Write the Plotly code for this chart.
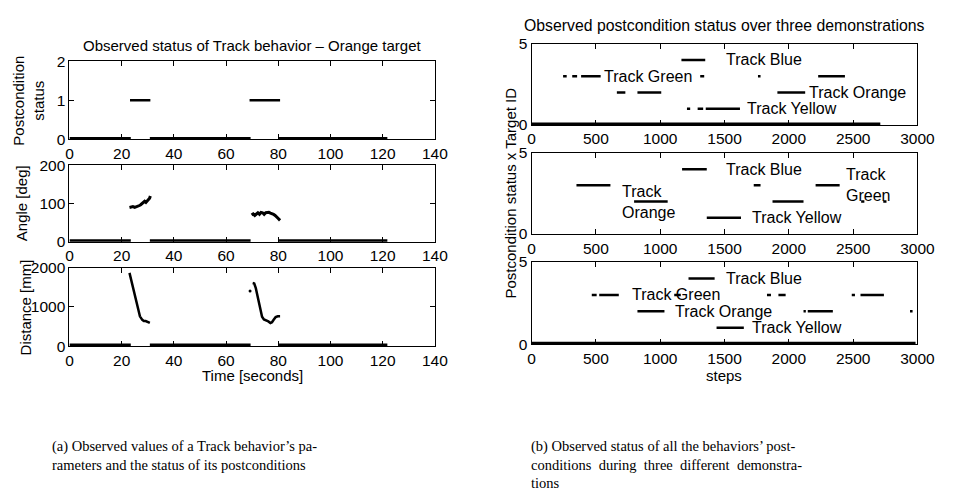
import plotly.graph_objects as go

W, H = 956, 497

# ---------------- data: left (a) ----------------
status_segments = [(0, 23.5, 0), (23.2, 31.0, 1), (30.8, 69.4, 0), (69.0, 80.7, 1), (80.3, 121.8, 0)]
zero_segments = [(0, 23.5), (30.8, 69.4), (80.3, 121.8)]

angle_t1 = [23.0, 23.6, 24.3, 25.0, 25.6, 26.2, 26.8, 27.3, 27.8, 28.3, 28.8, 29.3, 29.8, 30.3, 30.7, 31.0]
angle_v1 = [90, 91, 92, 90, 91, 93, 95, 97, 100, 103, 106, 103, 107, 108, 114, 120]
angle_t2 = [69.8, 70.4, 71.0, 71.6, 72.2, 72.8, 73.4, 74.0, 74.6, 75.2, 75.8, 76.4, 77.0, 77.6, 78.2, 78.8, 79.4, 80.0, 80.7]
angle_v2 = [70, 73, 69, 74, 76, 72, 77, 76, 72, 76, 77, 77, 75, 74, 72, 69, 66, 61, 56]

dist_t1 = [23.0, 24.0, 25.0, 26.0, 27.0, 27.9, 28.5, 29.2, 30.0, 30.8]
dist_v1 = [1870, 1590, 1290, 1000, 760, 670, 640, 640, 620, 595]
dist_t2 = [70.2, 70.8, 71.4, 72.2, 73.0, 73.8, 74.5, 75.3, 76.2, 77.0, 77.6, 78.3, 79.0, 79.8, 80.7]
dist_v2 = [1610, 1600, 1480, 1230, 980, 750, 680, 660, 630, 590, 610, 680, 740, 760, 760]
dist_t_extra = [69.2]
dist_v_extra = [1410]

# ---------------- data: right (b) ----------------
# per demonstration, per level (4=Blue, 3=Green, 2=Orange, 1=Yellow): active step ranges
demo1 = {
    4: [(1165, 1350)],
    3: [(245, 273), (316, 354), (385, 537), (1311, 1342), (1760, 1780), (2228, 2436)],
    2: [(663, 729), (823, 1008), (1911, 2127)],
    1: [(1208, 1233), (1291, 1334), (1354, 1620)],
}
demo2 = {
    4: [(1170, 1362)],
    3: [(349, 613), (1727, 1780), (2208, 2395)],
    2: [(797, 1058), (1873, 2114), (2562, 2587), (2734, 2759)],
    1: [(1362, 1628)],
}
demo3 = {
    4: [(1220, 1423)],
    3: [(468, 506), (526, 678), (1109, 1160), (1830, 1861), (1919, 1975), (2489, 2514), (2557, 2739)],
    2: [(823, 1033), (2114, 2132), (2147, 2342), (2942, 2962)],
    1: [(1438, 1650)],
}
demo_zero_end = [2711, None, 2985]

labels1 = [("Track Blue", 1494, 4), ("Track Green", 544, 3), ("Track Orange", 2139, 2), ("Track Yellow", 1658, 1)]
labels2 = [("Track Blue", 1499, 4), ("Track<br>Orange", 684, 1.95), ("Track<br>Green", 2431, 3.0), ("Track Yellow", 1701, 1)]
labels3 = [("Track Blue", 1499, 4), ("Track Green", 765, 3), ("Track Orange", 1101, 2), ("Track Yellow", 1701, 1)]

left_xticks = [0, 20, 40, 60, 80, 100, 120, 140]
right_xticks = [0, 500, 1000, 1500, 2000, 2500, 3000]

# ---------------- layout helpers ----------------
def dx(p0, p1):
    return [p0 / W, p1 / W]

def dy(top, bottom):
    return [1 - bottom / H, 1 - top / H]

FONT = "Liberation Sans, Arial, sans-serif"
SERIF = "Liberation Serif, Times New Roman, serif"
TF = dict(family=FONT, size=15, color="black")
TICKF = dict(family=FONT, size=15.5, color="black")
LABF = dict(family=FONT, size=16, color="black")

fig = go.Figure()

def seg_xy(segs, level):
    xs, ys = [], []
    for a, b in segs:
        xs += [a, b, None]
        ys += [level, level, None]
    return xs, ys

BLACK = "black"

# left panel 1: status
xs, ys = [], []
for a, b, v in status_segments:
    if v == 1:
        xs += [a, b, None]; ys += [v, v, None]
fig.add_trace(go.Scatter(x=xs, y=ys, mode="lines", line=dict(color=BLACK, width=2.5), xaxis="x", yaxis="y"))
for ax_x, ax_y in [("x", "y"), ("x2", "y2"), ("x3", "y3")]:
    zx, zy = seg_xy(zero_segments, 0)
    fig.add_trace(go.Scatter(x=zx, y=zy, mode="lines", line=dict(color=BLACK, width=5), xaxis=ax_x, yaxis=ax_y))

# left panel 2: angle
fig.add_trace(go.Scatter(x=angle_t1, y=angle_v1, mode="lines", line=dict(color=BLACK, width=3), xaxis="x2", yaxis="y2"))
fig.add_trace(go.Scatter(x=angle_t2, y=angle_v2, mode="lines", line=dict(color=BLACK, width=3), xaxis="x2", yaxis="y2"))

# left panel 3: distance
fig.add_trace(go.Scatter(x=dist_t1, y=dist_v1, mode="lines", line=dict(color=BLACK, width=2.5), xaxis="x3", yaxis="y3"))
fig.add_trace(go.Scatter(x=dist_t2, y=dist_v2, mode="lines", line=dict(color=BLACK, width=2.5), xaxis="x3", yaxis="y3"))
fig.add_trace(go.Scatter(x=dist_t_extra, y=dist_v_extra, mode="markers", marker=dict(color=BLACK, size=3), xaxis="x3", yaxis="y3"))

# right panels
for i, demo in enumerate([demo1, demo2, demo3]):
    axx, axy = "x%d" % (i + 4), "y%d" % (i + 4)
    xs, ys = [], []
    for lvl, segs in demo.items():
        sx, sy = seg_xy(segs, lvl)
        xs += sx; ys += sy
    fig.add_trace(go.Scatter(x=xs, y=ys, mode="lines", line=dict(color=BLACK, width=2.5), xaxis=axx, yaxis=axy))
    if demo_zero_end[i] is not None:
        zx, zy = seg_xy([(0, demo_zero_end[i])], 0)
        fig.add_trace(go.Scatter(x=zx, y=zy, mode="lines", line=dict(color=BLACK, width=5), xaxis=axx, yaxis=axy))

def axis_common():
    return dict(showline=True, linecolor="black", linewidth=1, mirror="ticks", ticks="inside",
                ticklen=5, tickcolor="black", showgrid=False, zeroline=False, tickfont=TICKF)

LX = dx(67, 441)
RX = dx(540, 935)
left_rows = [(54, 135), (162, 241), (268, 349)]
right_rows = [(36, 120), (149, 233), (262, 347)]
left_y = [([0, 2], [0, 1, 2]), ([0, 200], [0, 100, 200]), ([0, 2000], [0, 1000, 2000])]

layout = dict(width=W, height=H, margin=dict(l=0, r=0, t=0, b=0), showlegend=False,
              plot_bgcolor="white", paper_bgcolor="white", font=TF)
for i in range(3):
    n = i + 1
    xk = "xaxis" if n == 1 else "xaxis%d" % n
    yk = "yaxis" if n == 1 else "yaxis%d" % n
    layout[xk] = dict(domain=LX, range=[0, 140], tickvals=left_xticks, anchor="y" if n == 1 else "y%d" % n, **axis_common())
    layout[yk] = dict(domain=dy(*left_rows[i]), range=left_y[i][0], tickvals=left_y[i][1],
                      anchor="x" if n == 1 else "x%d" % n, **axis_common())
for i in range(3):
    n = i + 4
    layout["xaxis%d" % n] = dict(domain=RX, range=[0, 3000], tickvals=right_xticks, anchor="y%d" % n, **axis_common())
    layout["yaxis%d" % n] = dict(domain=dy(*right_rows[i]), range=[0, 5], tickvals=[0, 5], anchor="x%d" % n, **axis_common())

fig.update_layout(**layout)

ann = []
# in-plot labels
for i, labs in enumerate([labels1, labels2, labels3]):
    n = i + 4
    for txt, xv, yv in labs:
        ann.append(dict(x=xv, y=yv, xref="x%d" % n, yref="y%d" % n, text=txt, showarrow=False,
                        xanchor="left", yanchor="middle", font=LABF, align="left"))

def pann(px, py, text, **kw):
    d = dict(x=px / W, y=1 - py / H, xref="paper", yref="paper", text=text, showarrow=False, font=TF)
    d.update(kw)
    ann.append(d)

# titles
pann(254, 38, "Observed status of Track behavior \u2013 Orange target", xanchor="center", yanchor="middle")
pann(737, 17, "Observed postcondition status over three demonstrations", xanchor="center", yanchor="middle",
     font=dict(family=FONT, size=15.8, color="black"))
# axis titles
pann(25, 94.5, "Postcondition<br>status", xanchor="center", yanchor="middle", textangle=-90)
pann(18, 201.5, "Angle [deg]", xanchor="center", yanchor="middle", textangle=-90)
pann(22, 308.5, "Distance [mm]", xanchor="center", yanchor="middle", textangle=-90)
pann(518, 191, "Postcondition status x Target ID", xanchor="center", yanchor="middle", textangle=-90)
pann(254, 379, "Time [seconds]", xanchor="center", yanchor="middle")
pann(737, 379, "steps", xanchor="center", yanchor="middle")

# captions
CF = dict(family=SERIF, size=14.5, color="black")
pann(47, 453, "(a) Observed values of a Track behavior\u2019s pa-", xanchor="left", yanchor="middle", font=CF)
pann(47, 472, "rameters and the status of its postconditions", xanchor="left", yanchor="middle", font=CF)
pann(537, 453, "(b) Observed status of all the behaviors\u2019 post-", xanchor="left", yanchor="middle", font=CF)
pann(537, 472, "conditions\u00a0\u00a0during\u00a0\u00a0three\u00a0\u00a0different\u00a0\u00a0demonstra-", xanchor="left", yanchor="middle", font=CF)
pann(537, 491, "tions", xanchor="left", yanchor="middle", font=CF)

fig.update_layout(annotations=ann)
fig.write_html("out.html", post_script="document.body.style.margin='0';")
